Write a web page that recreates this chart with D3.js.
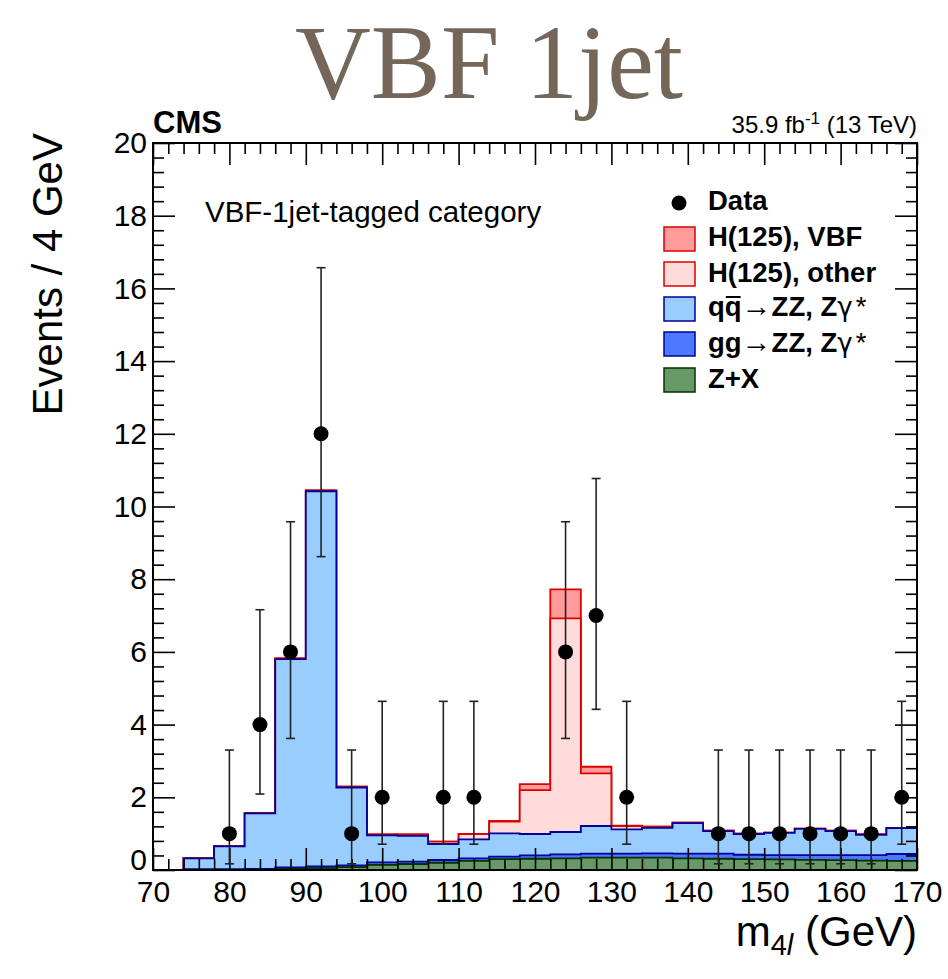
<!DOCTYPE html>
<html><head><meta charset="utf-8">
<script src="https://cdn.jsdelivr.net/npm/d3@7"></script>
<style>body{margin:0;background:#fff}svg{display:block}</style>
</head><body>
<svg id="c" width="948" height="979"></svg>
<script>
// ---- data ----
const binEdges = [74,78,82,86,90,94,98,102,106,110,114,118,122,126,130,134,138,142,146,150,154,158,162,166,170];
const zx     = [0.00,0.00,0.005,0.03,0.05,0.08,0.14,0.165,0.20,0.25,0.30,0.31,0.32,0.34,0.34,0.34,0.32,0.31,0.30,0.29,0.28,0.27,0.26,0.25];
const ggZZ   = [0.02,0.02,0.025,0.04,0.05,0.05,0.07,0.065,0.075,0.07,0.07,0.09,0.11,0.11,0.11,0.12,0.13,0.14,0.12,0.12,0.13,0.14,0.15,0.19];
const qqZZ   = [0.30,0.63,1.53,5.73,10.32,2.14,0.74,0.71,0.44,0.52,0.64,0.59,0.615,0.76,0.67,0.70,0.84,0.62,0.57,0.61,0.72,0.66,0.56,0.71];
const hOther = [0.005,0.01,0.01,0.02,0.02,0.02,0.03,0.04,0.065,0.15,0.32,1.21,5.875,1.45,0.09,0.03,0.01,0.01,0.01,0.01,0.01,0.01,0.01,0.01];
const hVBF   = [0,0,0,0,0,0,0,0,0,0,0.02,0.16,0.80,0.18,0.01,0,0,0,0,0,0,0,0,0];

const dataX    = [80,84,88,92,96,100,108,112,124,128,132,144,148,152,156,160,164,168];
const dataY    = [1,4,6,12,1,2,2,2,6,7,2,1,1,1,1,1,1,2];
const dataLow  = [0.17,2.09,3.62,8.62,0.17,0.71,0.71,0.71,3.62,4.42,0.71,0.17,0.17,0.17,0.17,0.17,0.17,0.71];
const dataHigh = [3.30,7.16,9.58,16.57,3.30,4.64,4.64,4.64,9.58,10.77,4.64,3.30,3.30,3.30,3.30,3.30,3.30,4.64];

const xTicks = [70,80,90,100,110,120,130,140,150,160,170];
const yTicks = [0,2,4,6,8,10,12,14,16,18,20];

// ---- layout ----
const L = 153, R = 917, T = 143, B = 870;
const x = d3.scaleLinear().domain([70,170]).range([L,R]);
const y = d3.scaleLinear().domain([0,20]).range([B,T]);
const svg = d3.select('#c');
const SANS = "'Liberation Sans', Arial, Helvetica, sans-serif";

// title
svg.append('text').attr('x', 489).attr('y', 98).attr('text-anchor','middle')
  .attr('font-family', "'Liberation Serif', 'DejaVu Serif', serif").attr('font-size', 105)
  .attr('fill', '#74675a').text('VBF 1jet');

// stacked cumulative
const layers = [
  {vals: zx,     fill:'#669966', line:'#003300'},
  {vals: ggZZ,   fill:'#4b78ff', line:'#000099'},
  {vals: qqZZ,   fill:'#99ccff', line:'#000099'},
  {vals: hOther, fill:'#ffdcdc', line:'#dd0000'},
  {vals: hVBF,   fill:'#ff9b9b', line:'#dd0000'}
];
let cum = zx.map(() => 0);
layers.forEach(l => { cum = cum.map((c,i) => c + l.vals[i]); l.cum = cum.slice(); });

function stepPts(c) {
  const pts = [[binEdges[0], 0]];
  c.forEach((v,i) => { pts.push([binEdges[i], v]); pts.push([binEdges[i+1], v]); });
  return pts;
}
const line = d3.line().x(d => x(d[0])).y(d => y(d[1]));
const gH = svg.append('g');
layers.slice().reverse().forEach(l => {
  const pts = stepPts(l.cum);
  const closed = pts.concat([[binEdges[binEdges.length-1], 0]]);
  gH.append('path').attr('d', line(closed) + 'Z').attr('fill', l.fill).attr('stroke','none');
  gH.append('path').attr('d', line(pts)).attr('fill','none').attr('stroke', l.line)
    .attr('stroke-width', 1.8);
});

// axes (ticks inside)
function minorVals(major, step) {
  const out = [];
  for (let i = 0; i < major.length - 1; i++) {
    for (let k = 1; k < 5; k++) out.push(major[i] + k * step);
  }
  return out;
}
const xMinor = minorVals(xTicks, 2);
const yMinor = minorVals(yTicks, 0.4);

function styleAxis(g) {
  g.select('.domain').remove();
  g.selectAll('line').attr('stroke','#000').attr('stroke-width',1.6);
  g.selectAll('text').attr('font-family', SANS).attr('font-size', 30).attr('fill','#000');
}
svg.append('g').attr('transform',`translate(0,${B})`)
  .call(d3.axisBottom(x).tickValues(xTicks).tickSize(-22).tickPadding(11).tickFormat(d3.format('d'))).call(styleAxis);
svg.append('g').attr('transform',`translate(0,${B})`)
  .call(d3.axisBottom(x).tickValues(xMinor).tickSize(-11).tickFormat('')).call(styleAxis);
svg.append('g').attr('transform',`translate(0,${T})`)
  .call(d3.axisTop(x).tickValues(xTicks).tickSize(-22).tickFormat('')).call(styleAxis);
svg.append('g').attr('transform',`translate(0,${T})`)
  .call(d3.axisTop(x).tickValues(xMinor).tickSize(-11).tickFormat('')).call(styleAxis);
const yAx = svg.append('g').attr('transform',`translate(${L},0)`)
  .call(d3.axisLeft(y).tickValues(yTicks).tickSize(-22).tickPadding(6).tickFormat(d3.format('d'))).call(styleAxis);
// lift the "0" label slightly so it does not collide with "70"
yAx.selectAll('.tick').filter(d => d === 0).select('text').attr('dy','-0.02em');
svg.append('g').attr('transform',`translate(${L},0)`)
  .call(d3.axisLeft(y).tickValues(yMinor).tickSize(-11).tickFormat('')).call(styleAxis);
svg.append('g').attr('transform',`translate(${R},0)`)
  .call(d3.axisRight(y).tickValues(yTicks).tickSize(-22).tickFormat('')).call(styleAxis);
svg.append('g').attr('transform',`translate(${R},0)`)
  .call(d3.axisRight(y).tickValues(yMinor).tickSize(-11).tickFormat('')).call(styleAxis);

// data
const gD = svg.append('g');
dataX.forEach((xv,i) => {
  const cx = x(xv);
  gD.append('line').attr('x1',cx).attr('x2',cx).attr('y1',y(dataLow[i])).attr('y2',y(dataHigh[i]))
    .attr('stroke','#222').attr('stroke-width',1.6);
  [dataLow[i], dataHigh[i]].forEach(v => {
    gD.append('line').attr('x1',cx-4.5).attr('x2',cx+4.5).attr('y1',y(v)).attr('y2',y(v))
      .attr('stroke','#222').attr('stroke-width',1.6);
  });
  gD.append('circle').attr('cx',cx).attr('cy',y(dataY[i])).attr('r',7.5).attr('fill','#000');
});

// frame
svg.append('rect').attr('x',L).attr('y',T).attr('width',R-L).attr('height',B-T)
  .attr('fill','none').attr('stroke','#000').attr('stroke-width',2);

// axis titles
svg.append('text').attr('transform',`translate(62,${T-10}) rotate(-90)`).attr('text-anchor','end')
  .attr('font-family',SANS).attr('font-size',42).text('Events / 4 GeV');
const xt = svg.append('text').attr('x',R).attr('y',946).attr('text-anchor','end')
  .attr('font-family',SANS).attr('font-size',42);
xt.append('tspan').text('m');
xt.append('tspan').attr('font-size',29).attr('dy',9).text('4');
xt.append('tspan').attr('font-size',29).attr('font-style','italic').text('l');
xt.append('tspan').attr('dy',-9).text(' (GeV)');

// CMS header
svg.append('text').attr('x',L).attr('y',133).attr('font-family',SANS).attr('font-weight','bold')
  .attr('font-size',31).text('CMS');
const lum = svg.append('text').attr('x',R).attr('y',133).attr('text-anchor','end')
  .attr('font-family',SANS).attr('font-size',24);
lum.append('tspan').text('35.9 fb');
lum.append('tspan').attr('font-size',17).attr('dy',-9).text('-1');
lum.append('tspan').attr('dy',9).text(' (13 TeV)');

svg.append('text').attr('x',205).attr('y',222).attr('font-family',SANS).attr('font-size',29.5)
  .text('VBF-1jet-tagged category');

// legend
const leg = svg.append('g').attr('font-family',SANS).attr('font-weight','bold').attr('font-size',27.5);
leg.append('circle').attr('cx',679).attr('cy',203).attr('r',7.5).attr('fill','#000');
leg.append('text').attr('x',708).attr('y',210).text('Data');
const legRows = [
  {top:227, base:246, fill:'#ff9b9b', line:'#dd0000', label:'H(125), VBF'},
  {top:262, base:282, fill:'#ffdcdc', line:'#dd0000', label:'H(125), other'},
  {top:297, base:316, fill:'#99ccff', line:'#000099', label:null},
  {top:332, base:352, fill:'#4b78ff', line:'#000099', label:null},
  {top:368, base:388, fill:'#669966', line:'#003300', label:'Z+X'}
];
legRows.forEach((r,i) => {
  leg.append('rect').attr('x',664).attr('y',r.top).attr('width',31).attr('height',24)
    .attr('fill',r.fill).attr('stroke',r.line).attr('stroke-width',1.5);
  const t = leg.append('text').attr('x',708).attr('y',r.base);
  if (r.label) { t.text(r.label); return; }
  t.append('tspan').text(i === 2 ? 'qq' : 'gg');
  t.append('tspan').attr('font-weight','normal').attr('font-size',30).text('\u2192');
  t.append('tspan').text('ZZ, Z');
  t.append('tspan').attr('font-weight','normal').attr('font-family',"'DejaVu Sans', sans-serif").attr('font-size',26).text('\u03b3');
  t.append('tspan').attr('font-weight','normal').attr('dx',3).text('*');
  if (i === 2) {
    const n = t.node();
    const x0 = n.getStartPositionOfChar(1).x, x1 = n.getEndPositionOfChar(1).x;
    leg.append('line').attr('x1',x0+1).attr('x2',x1-1).attr('y1',r.base-19).attr('y2',r.base-19)
      .attr('stroke','#000').attr('stroke-width',2);
  }
});
</script>
</body></html>
